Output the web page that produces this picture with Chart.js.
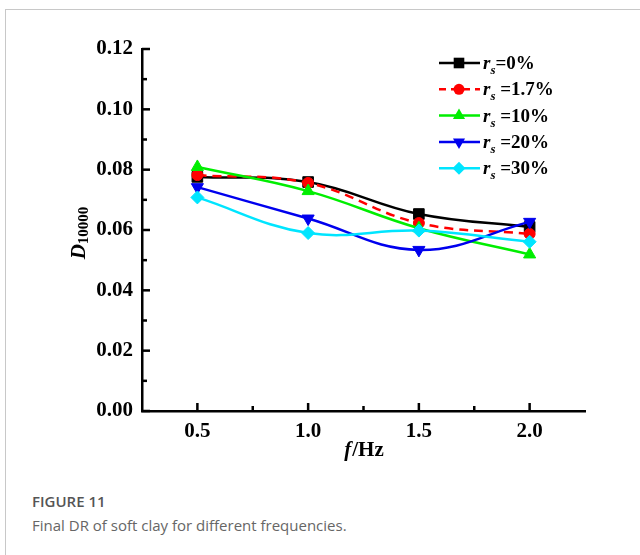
<!DOCTYPE html>
<html>
<head>
<meta charset="utf-8">
<script src="https://cdn.jsdelivr.net/npm/chart.js@4.4.0/dist/chart.umd.min.js"></script>
<style>
  body { margin: 0; background: #fff; }
  #frame { position: absolute; left: 5px; top: 9px; width: 700px; height: 600px;
           border-left: 1px solid #c8c8c8; border-top: 1px solid #c8c8c8; }
  #chart { position: absolute; left: 0; top: 0; }
  .cap { position: absolute; left: 32px; font-family: "Open Sans", sans-serif; }
  #figno { top: 491px; font-size: 15px; font-weight: 600; color: #555; }
  #figtxt { top: 515px; font-size: 15px; color: #666; }
</style>
</head>
<body>
<div id="frame"></div>
<canvas id="chart" width="640" height="470"></canvas>
<div class="cap" id="figno">FIGURE 11</div>
<div class="cap" id="figtxt">Final DR of soft clay for different frequencies.</div>
<script>
// 주파수 (Hz)
const freq = [0.5, 1.0, 1.5, 2.0];
// D10000 값 (r_s 별)
const rs0 = [0.0776, 0.0759, 0.0653, 0.0610];
const rs17 = [0.0782, 0.0756, 0.0623, 0.0587];
const rs10 = [0.0809, 0.0729, 0.0606, 0.0519];
const rs20 = [0.0742, 0.0638, 0.0534, 0.0627];
const rs30 = [0.0708, 0.0590, 0.0598, 0.0561];
const seriesLabels = ['=0%', ' =1.7%', ' =10%', ' =20%', ' =30%'];
const xTickLabels = [0.5, 1.0, 1.5, 2.0];
const yTickLabels = [0, 0.02, 0.04, 0.06, 0.08, 0.10, 0.12];

const serif = '"Liberation Serif", "Times New Roman", serif';

const styles = [
    { color: '#000000', point: 'rect', radius: 7.5, dash: [] },
    { color: '#ff0000', point: 'circle', radius: 5.5, dash: [9, 6] },
    { color: '#00ee00', point: 'triangle', radius: 7, dash: [] },
    { color: '#0000ee', point: 'triangle', radius: 7, rot: 180, dash: [] },
    { color: '#00e5ff', point: 'rectRot', radius: 6.5, dash: [] }
];
const allSeries = [rs0, rs17, rs10, rs20, rs30];

const datasets = allSeries.map((vals, i) => ({
    label: 'rs' + seriesLabels[i],
    data: freq.map((f, j) => ({ x: f, y: vals[j] })),
    borderColor: styles[i].color,
    backgroundColor: styles[i].color,
    borderWidth: 2.5,
    borderDash: styles[i].dash,
    pointStyle: styles[i].point,
    pointRadius: styles[i].radius,
    pointRotation: styles[i].rot || 0,
    pointBorderWidth: 1,
    tension: 0.4,
    order: 5 - i
}));

function drawMarker(ctx, type, r, rot, x, y) {
    ctx.beginPath();
    if (type === 'rect') {
        const s = Math.SQRT1_2 * r;
        ctx.rect(x - s, y - s, 2 * s, 2 * s);
    } else if (type === 'circle') {
        ctx.arc(x, y, r, 0, Math.PI * 2);
    } else if (type === 'triangle') {
        let a = rot ? Math.PI : 0;
        for (let k = 0; k < 3; k++) {
            const px = x + Math.sin(a) * r, py = y - Math.cos(a) * r;
            k === 0 ? ctx.moveTo(px, py) : ctx.lineTo(px, py);
            a += Math.PI * 2 / 3;
        }
        ctx.closePath();
    } else if (type === 'rectRot') {
        ctx.moveTo(x, y - r); ctx.lineTo(x + r, y); ctx.lineTo(x, y + r); ctx.lineTo(x - r, y);
        ctx.closePath();
    }
    ctx.fill();
}

// 축 눈금(안쪽), 범례, 축 제목
const decor = {
    id: 'decor',
    afterDraw(chart) {
        const ctx = chart.ctx;
        const xs = chart.scales.x, ys = chart.scales.y;
        const area = chart.chartArea;
        ctx.save();
        ctx.strokeStyle = '#000';
        ctx.lineWidth = 2.5;
        // y 눈금
        for (let k = 0; k <= 12; k++) {
            const py = ys.getPixelForValue(k * 0.01);
            const len = k % 2 === 0 ? 8 : 5;
            ctx.beginPath(); ctx.moveTo(area.left, py); ctx.lineTo(area.left + len, py); ctx.stroke();
        }
        // x 눈금
        for (let k = 1; k <= 7; k++) {
            const v = 0.25 + k * 0.25;
            const px = xs.getPixelForValue(v);
            const len = k % 2 === 1 ? 8 : 5;
            ctx.beginPath(); ctx.moveTo(px, area.bottom); ctx.lineTo(px, area.bottom - len); ctx.stroke();
        }

        // 범례
        const lx = area.left + 297, ly = area.top + 14, gap = 26.3;
        styles.forEach((st, i) => {
            const y = ly + i * gap;
            ctx.strokeStyle = st.color;
            ctx.fillStyle = st.color;
            ctx.lineWidth = 2.5;
            ctx.setLineDash(st.dash.length ? [7, 5] : []);
            ctx.beginPath(); ctx.moveTo(lx, y); ctx.lineTo(lx + 41, y); ctx.stroke();
            ctx.setLineDash([]);
            drawMarker(ctx, st.point, st.radius, st.rot, lx + 20, y);
            ctx.fillStyle = '#000';
            ctx.textBaseline = 'alphabetic';
            ctx.textAlign = 'left';
            ctx.font = 'italic bold 19px ' + serif;
            ctx.fillText('r', lx + 44, y + 6);
            const rw = ctx.measureText('r').width;
            ctx.font = 'italic bold 13px ' + serif;
            ctx.fillText('s', lx + 44 + rw, y + 11);
            const sw = ctx.measureText('s').width;
            ctx.font = 'bold 19px ' + serif;
            ctx.fillText(seriesLabels[i], lx + 44 + rw + sw, y + 6);
        });

        // x 축 제목
        ctx.fillStyle = '#000';
        ctx.font = 'italic bold 21px ' + serif;
        const fw = ctx.measureText('f').width;
        ctx.font = 'bold 21px ' + serif;
        const hw = ctx.measureText('/Hz').width;
        const cx = (area.left + area.right) / 2;
        const bx = cx - (fw + hw) / 2;
        ctx.font = 'italic bold 21px ' + serif;
        ctx.fillText('f', bx, area.bottom + 45);
        ctx.font = 'bold 21px ' + serif;
        ctx.fillText('/Hz', bx + fw + 1, area.bottom + 45);

        // y 축 제목
        ctx.translate(area.left - 57, (area.top + area.bottom) / 2 + 3);
        ctx.rotate(-Math.PI / 2);
        ctx.font = 'italic bold 21px ' + serif;
        const dw = ctx.measureText('D').width;
        ctx.font = 'bold 15px ' + serif;
        const nw = ctx.measureText('10000').width;
        const sx = -(dw + nw) / 2;
        ctx.font = 'italic bold 21px ' + serif;
        ctx.fillText('D', sx, 0);
        ctx.font = 'bold 15px ' + serif;
        ctx.fillText('10000', sx + dw, 3);
        ctx.restore();
    }
};

new Chart(document.getElementById('chart'), {
    type: 'line',
    data: { datasets },
    options: {
        responsive: false,
        animation: false,
        layout: { padding: { top: 49, right: 55, left: 0, bottom: 0 } },
        plugins: { legend: { display: false }, tooltip: { enabled: false } },
        scales: {
            x: {
                type: 'linear',
                min: 0.25,
                max: 2.25,
                afterBuildTicks: (s) => { s.ticks = xTickLabels.map(v => ({ value: v })); },
                afterFit: (s) => { s.height = 59; },
                grid: { display: false, drawTicks: false },
                border: { display: true, color: '#000', width: 2.5 },
                ticks: {
                    padding: 8,
                    color: '#000',
                    font: { family: serif, size: 21, weight: 'bold' },
                    callback: (v) => Number(v).toFixed(1)
                }
            },
            y: {
                min: 0,
                max: 0.12,
                afterBuildTicks: (s) => { s.ticks = yTickLabels.map(v => ({ value: v })); },
                afterFit: (s) => { s.width = 142; },
                grid: { display: false, drawTicks: false },
                border: { display: true, color: '#000', width: 2.5 },
                ticks: {
                    padding: 9,
                    color: '#000',
                    font: { family: serif, size: 21, weight: 'bold' },
                    callback: (v) => Number(v).toFixed(2)
                }
            }
        }
    },
    plugins: [decor]
});
</script>
</body>
</html>
